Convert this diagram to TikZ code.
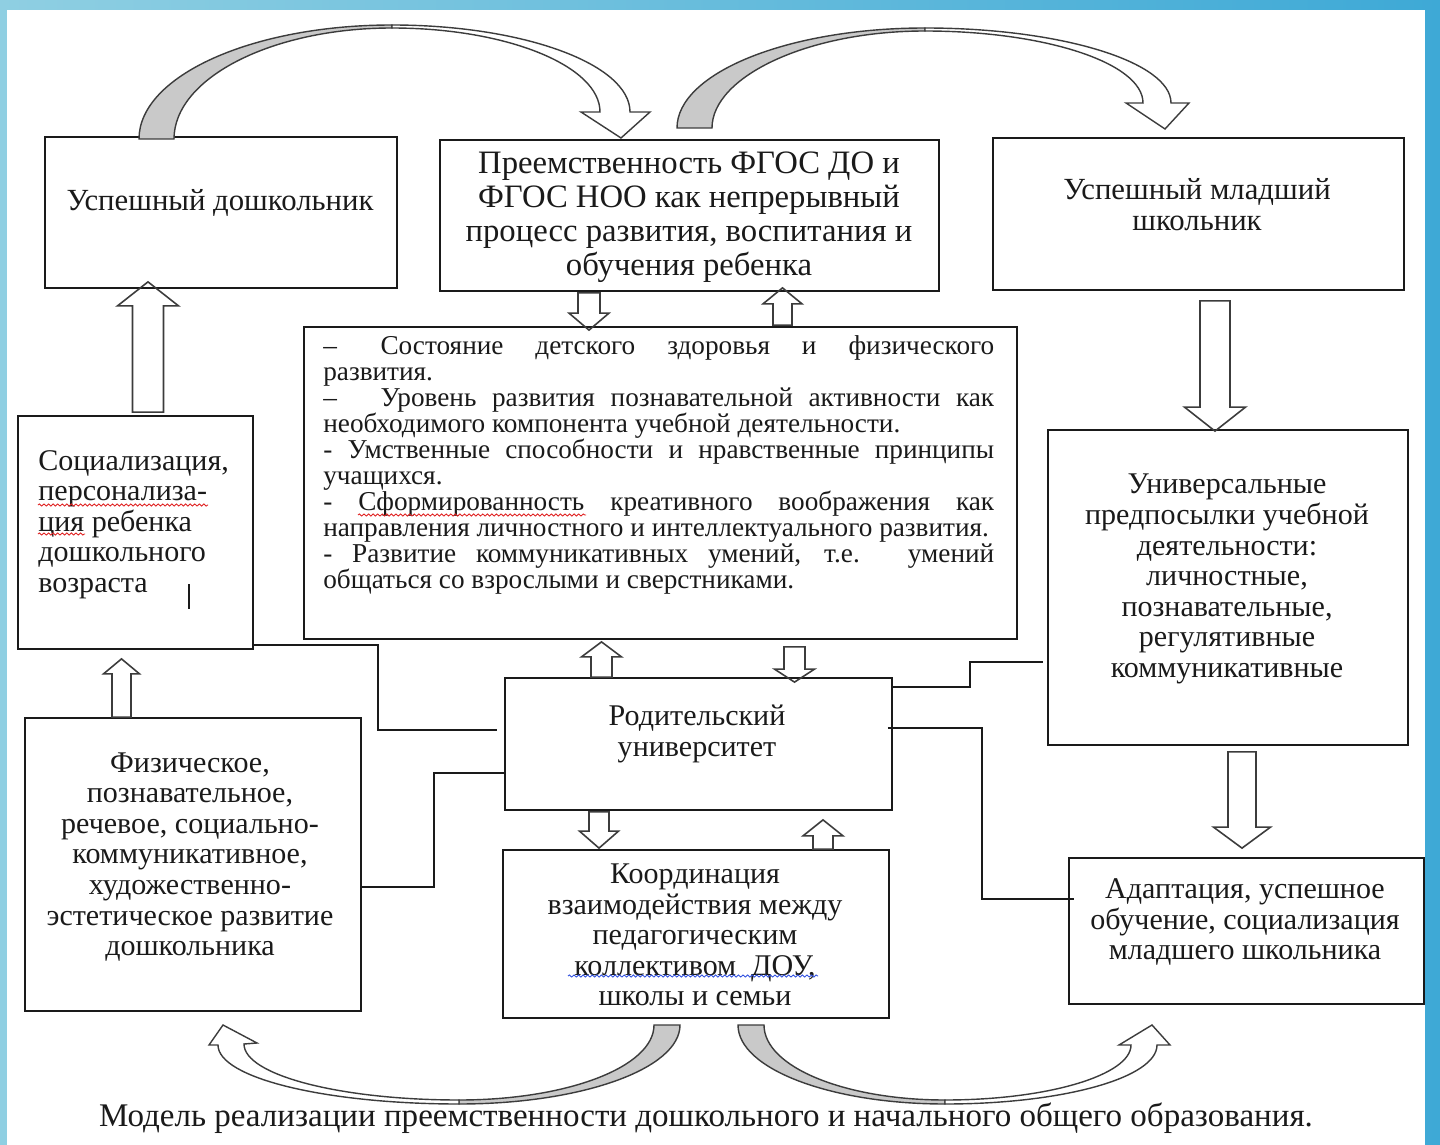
\documentclass[tikz,border=0pt]{standalone}
\usepackage{fontspec}
\setmainfont{Liberation Serif}
\usetikzlibrary{calc,decorations.pathmorphing}
\definecolor{ink}{HTML}{1A1A1A}
\definecolor{shade}{HTML}{C9C9C9}
\definecolor{frameL}{HTML}{8FCFE2}
\definecolor{frameM}{HTML}{4FD3EA}
\definecolor{frameR}{HTML}{3EA9D6}
\definecolor{spellred}{HTML}{E02020}
\definecolor{spellblue}{HTML}{3050E0}
\setlength{\parindent}{0pt}
% hollow straight arrow: x, tail anchor, tail shift, tip anchor, tip shift, shaft half, head half, head length
\newcommand{\hollowarrow}[8]{%
  \coordinate (ha-tail) at ($(#1,0 |- #2)+(0,#3)$);
  \coordinate (ha-tip) at ($(#1,0 |- #4)+(0,#5)$);
  \coordinate (ha-base) at ($(ha-tip)+(0,#8)$);
  \draw[hollow] ($(ha-tail)+(-#6,0)$) -- ($(ha-base)+(-#6,0)$) -- ($(ha-base)+(-#7,0)$)
    -- (ha-tip) -- ($(ha-base)+(#7,0)$) -- ($(ha-base)+(#6,0)$) -- ($(ha-tail)+(#6,0)$) -- cycle;}

\begin{document}
\begin{tikzpicture}[x=0.02cm, y=-0.02cm,
  box/.style 2 args={draw=ink, line width=1pt, inner sep=0pt,
    minimum width=#1*0.02cm, minimum height=#2*0.02cm},
  txt/.style={inner sep=0pt, align=center, text=ink, font=\fontsize{17.1}{17.4}\selectfont},
  head/.style={txt, font=\fontsize{17.5}{17.6}\selectfont},
  big/.style={txt, font=\fontsize{18.6}{19.3}\selectfont},
  listtxt/.style={inner sep=0pt, anchor=north west, text width=13.42cm, align=justify,
    text=ink, font=\fontsize{15.5}{14.8}\selectfont\hyphenpenalty10000\relax},
  link/.style={draw=ink, line width=0.8pt},
  hollow/.style={draw=ink!85, line width=0.9pt},
  bent/.style={draw=ink!85, line width=0.8pt},
  wave/.style={line width=0.5pt, decorate, decoration={snake, amplitude=0.6pt, segment length=2.6pt}}]
\useasboundingbox (0,0) rectangle (1440,1145);
% slide frame
\shade[left color=frameL, middle color=frameM, right color=frameR] (0,0) rectangle (1440,1145);
\fill[white] (7,10) rectangle (1425,1145);

% boxes
\node[box={352}{151}] (usp) at (221,212.5) {};
\node[box={499}{151}] (pre) at (689.5,215.5) {};
\node[box={411}{152}] (uspml) at (1198.5,214) {};
\node[box={713}{312}] (list) at (660.5,483) {};
\node[box={235}{233}] (soc) at (135.5,532.5) {};
\node[box={336}{293}] (fiz) at (193,864.5) {};
\node[box={387}{132}] (rod) at (698.5,744) {};
\node[box={386}{168}] (koord) at (696,934) {};
\node[box={360}{315}] (univ) at (1228,587.5) {};
\node[box={355}{146}] (adapt) at (1246.5,931) {};

% texts
\node[head] (usp-t) at (220,203) {Успешный дошкольник};
\node[big] (pre-t) at (689,217) {Преемственность ФГОС ДО и\\ФГОС НОО как непрерывный\\процесс развития, воспитания и\\обучения ребенка};
\node[head] (uspml-t) at (1197,204.5) {Успешный младший\\школьник};
\node[listtxt] (list-t) at (323,335) {%
–\hspace{1.6em}Состояние детского здоровья и физического\linebreak развития.\par
–\hspace{1.6em}Уровень развития познавательной активности как\linebreak необходимого компонента учебной деятельности.\par
- Умственные способности и нравственные принципы\linebreak учащихся.\par
- Сформированность креативного воображения как\linebreak направления личностного и интеллектуального развития.\par
- Развитие коммуникативных умений, т.е. умений\linebreak общаться со взрослыми и сверстниками.};
\node[txt, align=left, anchor=north west] (soc-t) at (38,450) {Социализация,\\персонализа-\\ция ребенка\\дошкольного\\возраста};
\draw[ink, line width=0.7pt] (189,584) -- (189,609);
\node[txt] (fiz-t) at (190,857) {Физическое,\\познавательное,\\речевое, социально-\\коммуникативное,\\художественно-\\эстетическое развитие\\дошкольника};
\node[txt] (rod-t) at (697,734) {Родительский\\университет};
\node[txt] (koord-t) at (695,935) {Координация\\взаимодействия между\\педагогическим\\коллективом\ \ ДОУ,\\школы и семьи};
\node[txt] (univ-t) at (1227,579) {Универсальные\\предпосылки учебной\\деятельности:\\личностные,\\познавательные,\\регулятивные\\коммуникативные};
\node[txt] (adapt-t) at (1245,922) {Адаптация, успешное\\обучение, социализация\\младшего школьника};
\node[big, font=\fontsize{18.8}{19.3}\selectfont] (caption) at (706,1118) {Модель реализации преемственности дошкольного и начального общего образования.};

% spell-check marks
\draw[wave, spellred] (358,515) -- (586,515);
\draw[wave, spellred] (38,505) -- (208,505);
\draw[wave, spellred] (38,534) -- (85,534);
\draw[wave, spellblue] (568,976) -- (818,976);

% links to the parents' university
\draw[link] ($(soc.south east)+(0,-5)$) -- ++(124,0) |- ($(rod.west)+(-7,-14)$);
\draw[link] ($(fiz.east)+(0,22.5)$) -- ++(72,0) |- ($(rod.west)+(0,29)$);
\draw[link] ($(rod.east)+(0,-57)$) -- ++(77,0) |- ($(univ.west)+(-4,74.5)$);
\draw[link] ($(rod.east)+(-5,-16)$) -- ++(94,0) |- ($(adapt.west)+(6,-32)$);

% straight hollow arrows
\hollowarrow{148}{soc.north}{-3}{usp.south}{-7}{15.5}{30.5}{24}
\hollowarrow{589}{pre.south}{1}{list.north}{4}{11}{20}{-17}
\hollowarrow{782.5}{list.north}{-1}{pre.south}{-4}{9.5}{19.5}{16}
\hollowarrow{601.5}{rod.north}{0}{list.south}{2}{10.5}{20}{15}
\hollowarrow{794.5}{list.south}{7}{rod.north}{5}{10.5}{20}{-13}
\hollowarrow{599}{rod.south}{1}{koord.north}{-1}{10}{19.5}{-17}
\hollowarrow{823}{koord.north}{0}{rod.south}{9}{10}{20}{16}
\hollowarrow{121.5}{fiz.north}{0}{soc.south}{9}{9.5}{18}{15}
\hollowarrow{1215}{uspml.south}{10}{univ.north}{2}{15}{30.5}{-24}
\hollowarrow{1242}{univ.south}{6}{adapt.north}{-9}{14}{28.5}{-21}

% curved arrows, top
\filldraw[bent, fill=shade] (139,139) .. controls (139,76) and (252,25) .. (392,25) -- (392,28)
  .. controls (272,28) and (174,78) .. (174,139) -- cycle;
\filldraw[bent, fill=white] (392,25) .. controls (523,25) and (630,64) .. (630,112) -- (650,112)
  -- (621,138) -- (581,112) -- (600,112) .. controls (600,66) and (507,28) .. (392,28) -- cycle;
\filldraw[bent, fill=shade] (677,128) .. controls (677,73) and (788,28) .. (925,28) -- (925,31)
  .. controls (807,31) and (712,77) .. (712,128) -- cycle;
\filldraw[bent, fill=white] (925,28) .. controls (1061,28) and (1171,62) .. (1171,103) -- (1189,103)
  -- (1165,129) -- (1126,103) -- (1143,103) .. controls (1143,63) and (1045,31) .. (925,31) -- cycle;
% curved arrows, bottom
\filldraw[bent, fill=shade] (680,1025) .. controls (680,1069) and (581,1104) .. (459,1104) -- (459,1100)
  .. controls (567,1100) and (654,1067) .. (654,1025) -- cycle;
\filldraw[bent, fill=white] (459,1104) .. controls (326,1104) and (218,1078) .. (218,1045) -- (209,1045)
  -- (223,1025) -- (257,1043) -- (244,1044) .. controls (244,1075) and (340,1100) .. (459,1100) -- cycle;
\filldraw[bent, fill=shade] (738,1025) .. controls (738,1069) and (831,1104) .. (945,1104) -- (945,1100)
  .. controls (845,1100) and (764,1067) .. (764,1025) -- cycle;
\filldraw[bent, fill=white] (945,1104) .. controls (1062,1104) and (1157,1078) .. (1157,1045) -- (1170,1045)
  -- (1152,1025) -- (1119,1045) -- (1131,1045) .. controls (1131,1075) and (1048,1100) .. (945,1100) -- cycle;
\end{tikzpicture}
\end{document}
